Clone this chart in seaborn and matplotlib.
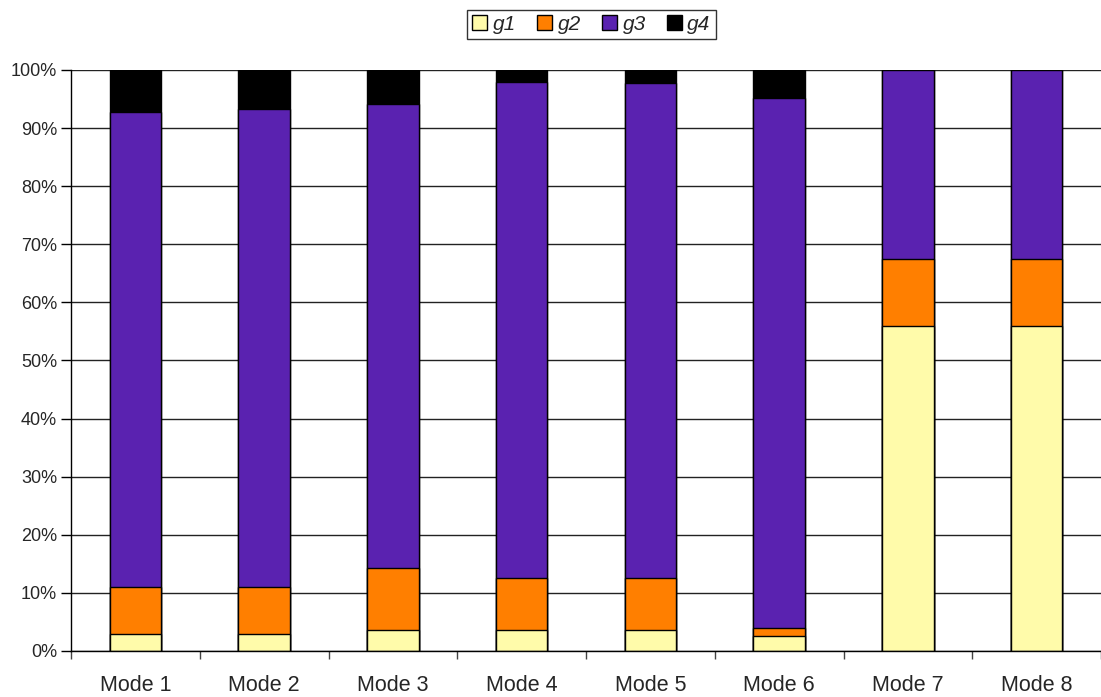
import matplotlib
matplotlib.use("Agg")
import matplotlib.pyplot as plt
from matplotlib.patches import Patch
from matplotlib.ticker import FuncFormatter
import numpy as np
import pandas as pd
import seaborn as sns

# data (percent of each mode)
modes = ["Mode 1", "Mode 2", "Mode 3", "Mode 4", "Mode 5", "Mode 6", "Mode 7", "Mode 8"]
g1 = [2.9, 2.9, 3.7, 3.7, 3.7, 2.5, 55.9, 55.9]
g2 = [8.2, 8.2, 10.6, 8.8, 8.9, 1.5, 11.6, 11.6]
g3 = [81.6, 82.2, 79.8, 85.4, 85.2, 91.1, 32.5, 32.5]
g4 = [7.3, 6.7, 5.9, 2.1, 2.2, 4.9, 0.0, 0.0]

groups = ["g1", "g2", "g3", "g4"]
colors = ["#FFFBAA", "#FF7F00", "#5A22B0", "#000000"]

df = pd.DataFrame({"mode": modes, "g1": g1, "g2": g2, "g3": g3, "g4": g4})
cum = df[groups].cumsum(axis=1)

sns.set_style("white")
plt.rcParams["font.family"] = ["Liberation Sans", "DejaVu Sans"]

fig = plt.figure(figsize=(11.01, 6.97), dpi=100)
ax = fig.add_axes([0.0645, 0.066, 0.9355, 0.8336])

# stacked bars: draw cumulative totals from the top layer down
for g, c in reversed(list(zip(groups, colors))):
    sns.barplot(x=df["mode"], y=cum[g], color=c, width=0.4,
                edgecolor="black", linewidth=1, saturation=1, ax=ax)

ax.set_ylim(0, 100)
ax.set_xlim(-0.5, 7.5)
ax.set_yticks(np.arange(0, 101, 10))
ax.yaxis.set_major_formatter(FuncFormatter(lambda v, p: f"{v:.0f}%"))
ax.yaxis.grid(True, color="#222222", linewidth=1)
ax.set_axisbelow(True)
ax.set_xlabel("")
ax.set_ylabel("")

ax.tick_params(axis="y", labelsize=13, length=7, width=1, color="black",
               direction="out", left=True, pad=3)
ax.tick_params(axis="x", which="major", labelsize=15.5, length=0, pad=17)
ax.set_xticks(np.arange(-0.5, 8, 1), minor=True)
ax.tick_params(axis="x", which="minor", length=6, width=1, color="#444444",
               direction="out", bottom=True)

for s in ["top", "right"]:
    ax.spines[s].set_visible(False)
for s in ["left", "bottom"]:
    ax.spines[s].set_color("black")
    ax.spines[s].set_linewidth(1)

handles = [Patch(facecolor=c, edgecolor="black", linewidth=1, label=g)
           for g, c in zip(groups, colors)]
leg = fig.legend(handles=handles, loc="center", bbox_to_anchor=(0.537, 0.965),
                 ncol=4, frameon=True, fancybox=False, edgecolor="black",
                 prop={"style": "italic", "size": 15}, handlelength=0.75,
                 handleheight=0.75, handletextpad=0.25, columnspacing=1.0,
                 borderpad=0.25)
leg.get_frame().set_linewidth(1)

fig.savefig("out.png", dpi=100)
